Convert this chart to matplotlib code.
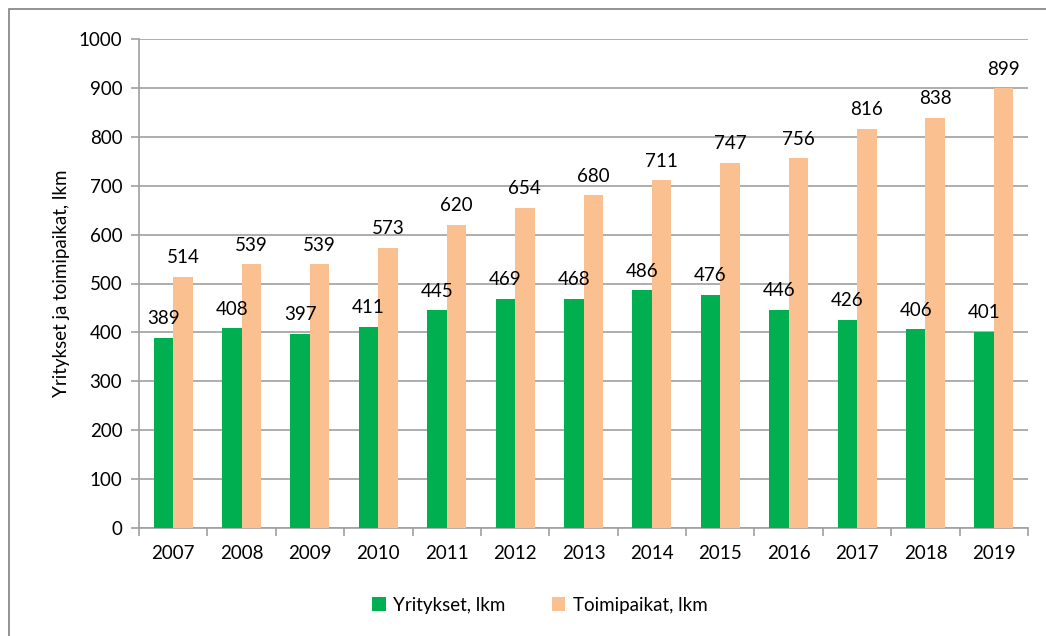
import matplotlib.pyplot as plt
import numpy as np
from matplotlib.patches import Rectangle

plt.rcParams['font.family'] = ['Lato', 'DejaVu Sans']

years = ["2007", "2008", "2009", "2010", "2011", "2012", "2013",
         "2014", "2015", "2016", "2017", "2018", "2019"]
yritykset = [389, 408, 397, 411, 445, 469, 468, 486, 476, 446, 426, 406, 401]
toimipaikat = [514, 539, 539, 573, 620, 654, 680, 711, 747, 756, 816, 838, 899]

GREEN = "#00B050"
ORANGE = "#FAC090"
GRID = "#A0A0A0"
FS = 13.5
W = 1046 / 100
H = 636 / 100

fig = plt.figure(figsize=(W, H), dpi=100)
ax = fig.add_axes([139 / 1046, 1 - 528 / 636, (1028 - 139) / 1046, (528 - 39) / 636])

# outer chart border (only left/top visible in the reference)
fig.patches.append(Rectangle((9 / 1046, -0.05), 1.2, 1 - 9 / 636 + 0.05,
                             transform=fig.transFigure, fill=False,
                             edgecolor="#808080", linewidth=1.2))

x = np.arange(len(years))
bw = 0.285
b1 = ax.bar(x - bw / 2, yritykset, bw, color=GREEN, label="Yritykset, lkm", zorder=3)
b2 = ax.bar(x + bw / 2, toimipaikat, bw, color=ORANGE, label="Toimipaikat, lkm", zorder=3)

for bars, vals in ((b1, yritykset), (b2, toimipaikat)):
    for r, v in zip(bars, vals):
        ax.text(r.get_x() + r.get_width() / 2, v + 22, str(v),
                ha="center", va="bottom", fontsize=FS, color="black")

ax.set_xlim(-0.5, len(years) - 0.5)
ax.set_ylim(0, 1000)
ax.set_yticks(range(0, 1001, 100))
ax.set_xticks(np.arange(-0.5, len(years), 1), minor=False)
ax.set_xticklabels([])
ax.set_xticks(x, minor=True)
ax.set_xticklabels(years, minor=True)
ax.tick_params(axis="x", which="major", length=6, color=GRID, width=1.2)
ax.tick_params(axis="x", which="minor", length=0, pad=12, labelsize=FS)
ax.tick_params(axis="y", length=6, color=GRID, width=1.2, labelsize=FS, pad=6)
ax.yaxis.grid(True, color=GRID, linewidth=1.2, zorder=0)
ax.set_axisbelow(True)

for s in ("top", "right"):
    ax.spines[s].set_visible(False)
for s in ("left", "bottom"):
    ax.spines[s].set_color(GRID)
    ax.spines[s].set_linewidth(1.2)

ax.set_ylabel("Yritykset ja toimipaikat, lkm", fontsize=FS, labelpad=6)

fig.legend(handles=[b1, b2], loc="center", bbox_to_anchor=(540 / 1046, 1 - 605 / 636),
           ncol=2, frameon=False, fontsize=FS, handlelength=0.7, handleheight=0.7,
           columnspacing=2.5, handletextpad=0.4)

fig.savefig("out.png", dpi=100)
